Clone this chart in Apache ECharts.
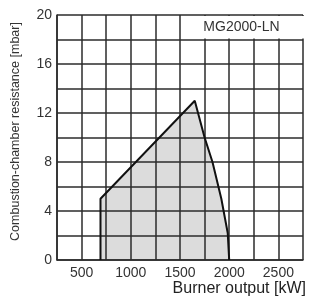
<!DOCTYPE html>
<html>
<head>
<meta charset="utf-8">
<script src="https://cdn.jsdelivr.net/npm/echarts@6/dist/echarts.min.js"></script>
<style>
  html, body { margin: 0; padding: 0; background: #fff; }
  #main { width: 309px; height: 306px; }
</style>
</head>
<body>
<div id="main"></div>
<script>
// operating range outline (kW, mbar)
var outputKW = [692, 692, 1650, 1750, 1830, 1920, 1985, 2000];
var resistance = [0, 5, 13, 10, 8, 5, 2.2, 0];
var xTicks = [500, 1000, 1500, 2000, 2500];
var yTicks = [0, 4, 8, 12, 16, 20];
var modelName = 'MG2000-LN';

document.addEventListener('DOMContentLoaded', function () {
  var myChart = echarts.init(document.getElementById('main'));
  var pts = outputKW.map(function (x, i) { return [x, resistance[i]]; });
  var font = 'Liberation Sans, Arial, sans-serif';
  var gridLine = { show: true, lineStyle: { color: '#2b2b2b', width: 1.5 } };

  var option = {
    animation: false,
    grid: { left: 57, right: 5, top: 15, bottom: 46 },
    xAxis: {
      type: 'value', min: 250, max: 2750, interval: 250, z: 2,
      name: 'Burner output [kW]',
      nameLocation: 'end', nameGap: 3,
      nameTextStyle: { fontFamily: font, fontSize: 16, color: '#222', align: 'right', verticalAlign: 'top', padding: [21, 0, 0, 0] },
      axisLine: { show: true, lineStyle: { color: '#2b2b2b', width: 1.5 } },
      axisTick: { show: false },
      splitLine: gridLine,
      axisLabel: {
        margin: 6, fontFamily: font, fontSize: 14, color: '#333',
        formatter: function (v) { return xTicks.indexOf(v) >= 0 ? String(v) : ''; }
      }
    },
    yAxis: {
      type: 'value', min: 0, max: 20, interval: 2, z: 2,
      name: 'Combustion-chamber resistance [mbar]',
      nameLocation: 'middle', nameRotate: 90, nameGap: 35,
      nameTextStyle: { fontFamily: font, fontSize: 12.5, color: '#333', padding: [0, 0, 0, 12] },
      axisLine: { show: true, lineStyle: { color: '#2b2b2b', width: 1.5 } },
      axisTick: { show: false },
      splitLine: gridLine,
      axisLabel: {
        margin: 5, fontFamily: font, fontSize: 14, color: '#333',
        formatter: function (v) { return yTicks.indexOf(v) >= 0 ? String(v) : ''; }
      }
    },
    series: [
      {
        // grey fill, under the grid lines
        type: 'line', data: pts, z: 1, symbol: 'none',
        lineStyle: { width: 0 },
        areaStyle: { color: '#dcdcdc', opacity: 1 }
      },
      {
        // black outline, above the grid lines
        type: 'line', data: pts, z: 3, symbol: 'none',
        lineStyle: { color: '#111', width: 2 }
      }
    ]
  };
  myChart.setOption(option);

  // white label box in the top right corner (1500..2750 kW, 18..20 mbar)
  var a = myChart.convertToPixel({ gridIndex: 0 }, [1500, 20]);
  var b = myChart.convertToPixel({ gridIndex: 0 }, [2750, 18]);
  myChart.setOption({
    graphic: [
      {
        type: 'rect', z: 10,
        shape: { x: a[0] + 1, y: a[1] + 1, width: b[0] - a[0] + 2, height: b[1] - a[1] - 2 },
        style: { fill: '#fff' }
      },
      {
        type: 'text', z: 11,
        x: (a[0] + b[0]) / 2, y: (a[1] + b[1]) / 2,
        style: { text: modelName, fontFamily: font, fontSize: 14, fill: '#333', align: 'center', verticalAlign: 'middle' }
      }
    ]
  });
});
</script>
</body>
</html>
